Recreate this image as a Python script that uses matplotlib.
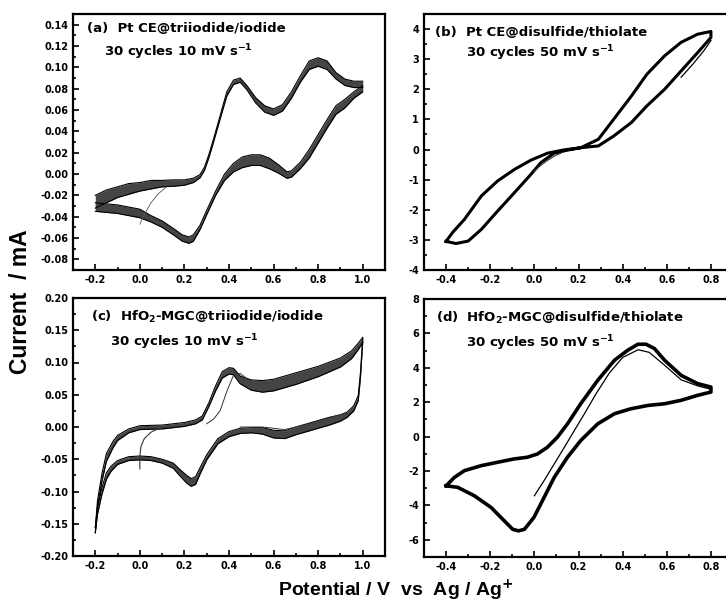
import numpy as np
import matplotlib
matplotlib.use("Agg")
import matplotlib.pyplot as plt
from matplotlib.ticker import MultipleLocator, FormatStrFormatter

plt.rcParams['font.family'] = ['DejaVu Sans']
plt.rcParams['font.weight'] = 'bold'
plt.rcParams['axes.unicode_minus'] = False
plt.rcParams['mathtext.fontset'] = 'dejavusans'

# ---- (a) Pt CE @ triiodide/iodide, 30 cycles (band: centre + half width)
a_fwd_v = [-0.20, -0.15, -0.10, -0.05, 0.00, 0.05, 0.10, 0.15, 0.20, 0.24, 0.27, 0.29, 0.31, 0.33, 0.36, 0.39,
           0.42, 0.45, 0.48, 0.52, 0.56, 0.60, 0.64, 0.68, 0.72, 0.76, 0.80, 0.84, 0.88, 0.92, 0.96, 1.00]
a_fwd_i = [-0.026, -0.021, -0.017, -0.014, -0.012, -0.010, -0.009, -0.0085, -0.008, -0.006, -0.002, 0.005,
           0.017, 0.031, 0.053, 0.075, 0.086, 0.088, 0.081, 0.069, 0.061, 0.058, 0.062, 0.074, 0.089, 0.102, 0.105,
           0.102, 0.092, 0.086, 0.084, 0.084]
a_fwd_hw = [0.006, 0.006, 0.005, 0.005, 0.004, 0.004, 0.003, 0.003, 0.0025, 0.002, 0.0015, 0.0015, 0.0015,
            0.0015, 0.0015, 0.002, 0.002, 0.002, 0.002, 0.0025, 0.003, 0.003, 0.003, 0.003, 0.003, 0.004, 0.004,
            0.004, 0.003, 0.003, 0.003, 0.003]
a_rev_v = [1.00, 0.96, 0.92, 0.88, 0.84, 0.80, 0.76, 0.72, 0.68, 0.66, 0.62, 0.58, 0.54, 0.50, 0.46, 0.42, 0.38,
           0.34, 0.30, 0.27, 0.24, 0.22, 0.19, 0.15, 0.10, 0.05, 0.00, -0.05, -0.10, -0.15, -0.20]
a_rev_i = [0.080, 0.074, 0.066, 0.060, 0.047, 0.033, 0.019, 0.008, 0.000, -0.001, 0.005, 0.010, 0.013, 0.013,
           0.011, 0.006, -0.003, -0.018, -0.036, -0.050, -0.060, -0.062, -0.060, -0.054, -0.047, -0.042, -0.037,
           -0.035, -0.033, -0.032, -0.031]
a_rev_hw = [0.003, 0.003, 0.004, 0.004, 0.004, 0.004, 0.004, 0.003, 0.003, 0.003, 0.004, 0.005, 0.005, 0.005,
            0.005, 0.004, 0.003, 0.002, 0.002, 0.002, 0.003, 0.003, 0.003, 0.003, 0.003, 0.003, 0.004, 0.004,
            0.004, 0.004, 0.004]
a_start_v = [0.00, 0.02, 0.05, 0.08, 0.12]
a_start_i = [-0.047, -0.038, -0.027, -0.019, -0.012]

# ---- (b) Pt CE @ disulfide/thiolate
b_fwd_v = [-0.40, -0.355, -0.30, -0.24, -0.166, -0.09, -0.015, 0.03, 0.09, 0.15, 0.21, 0.29, 0.36, 0.44, 0.51,
           0.59, 0.665, 0.74, 0.80]
b_fwd_i = [-3.05, -3.12, -3.04, -2.65, -2.04, -1.43, -0.82, -0.43, -0.12, -0.02, 0.06, 0.34, 1.01, 1.78, 2.50,
           3.11, 3.56, 3.83, 3.92]
b_rev_v = [0.80, 0.74, 0.665, 0.59, 0.51, 0.44, 0.36, 0.29, 0.21, 0.136, 0.06, -0.015, -0.09, -0.166, -0.24,
           -0.317, -0.37, -0.40]
b_rev_i = [3.72, 3.22, 2.61, 2.00, 1.45, 0.90, 0.45, 0.12, 0.06, -0.01, -0.12, -0.35, -0.66, -1.04, -1.54,
           -2.32, -2.75, -3.05]
b_start_v = [0.00, 0.03, 0.06, 0.09, 0.12]
b_start_i = [-0.71, -0.52, -0.36, -0.22, -0.12]
b_rev2_v = [0.80, 0.77, 0.72, 0.665]
b_rev2_i = [3.62, 3.30, 2.85, 2.40]

# ---- (c) HfO2-MGC @ triiodide/iodide
c_fwd_v = [-0.20, -0.19, -0.17, -0.15, -0.12, -0.10, -0.05, 0.00, 0.10, 0.20, 0.25, 0.28, 0.31, 0.34, 0.37, 0.40,
           0.42, 0.45, 0.50, 0.55, 0.60, 0.65, 0.70, 0.80, 0.90, 0.95, 0.98, 1.00]
c_fwd_i = [-0.160, -0.119, -0.078, -0.047, -0.027, -0.017, -0.006, -0.001, 0.000, 0.004, 0.008, 0.014, 0.035,
           0.060, 0.081, 0.087, 0.086, 0.073, 0.065, 0.063, 0.065, 0.070, 0.075, 0.086, 0.100, 0.112, 0.125, 0.135]
c_fwd_hw = [0.004, 0.005, 0.006, 0.006, 0.005, 0.004, 0.003, 0.003, 0.003, 0.003, 0.003, 0.003, 0.003, 0.004,
            0.005, 0.005, 0.005, 0.006, 0.008, 0.009, 0.009, 0.009, 0.009, 0.008, 0.007, 0.006, 0.005, 0.004]
c_rev_v = [1.00, 0.99, 0.98, 0.96, 0.93, 0.90, 0.85, 0.80, 0.75, 0.70, 0.65, 0.60, 0.55, 0.50, 0.45, 0.40, 0.35,
           0.30, 0.27, 0.25, 0.23, 0.21, 0.18, 0.15, 0.10, 0.05, 0.00, -0.05, -0.10, -0.13, -0.15, -0.17, -0.19, -0.20]
c_rev_i = [0.135, 0.081, 0.045, 0.029, 0.019, 0.014, 0.009, 0.004, -0.001, -0.006, -0.012, -0.011, -0.006,
           -0.005, -0.006, -0.011, -0.022, -0.047, -0.068, -0.083, -0.086, -0.081, -0.071, -0.060, -0.053, -0.049,
           -0.048, -0.049, -0.055, -0.065, -0.076, -0.099, -0.130, -0.160]
c_rev_hw = [0.003, 0.004, 0.004, 0.004, 0.004, 0.005, 0.006, 0.006, 0.006, 0.006, 0.006, 0.006, 0.005, 0.004,
            0.004, 0.004, 0.004, 0.004, 0.005, 0.006, 0.006, 0.006, 0.005, 0.004, 0.003, 0.003, 0.003, 0.003,
            0.003, 0.004, 0.005, 0.005, 0.005, 0.004]
c_start_v = [0.00, 0.00, 0.005, 0.02, 0.05, 0.08, 0.12]
c_start_i = [-0.065, -0.045, -0.030, -0.018, -0.008, -0.003, 0.000]
c_thin1_v = [0.30, 0.33, 0.36, 0.39, 0.42, 0.45, 0.48]
c_thin1_i = [0.005, 0.012, 0.025, 0.055, 0.080, 0.083, 0.075]
c_thin2_v = [0.45, 0.55, 0.65, 0.75, 0.85, 0.93]
c_thin2_i = [0.000, 0.000, -0.004, 0.004, 0.014, 0.022]

# ---- (d) HfO2-MGC @ disulfide/thiolate
d_fwd_v = [-0.40, -0.362, -0.317, -0.241, -0.166, -0.092, -0.032, 0.014, 0.059, 0.104, 0.15, 0.21, 0.287, 0.363,
           0.423, 0.469, 0.506, 0.544, 0.59, 0.665, 0.74, 0.80]
d_fwd_i = [-2.86, -2.37, -1.98, -1.69, -1.49, -1.30, -1.20, -1.01, -0.62, -0.04, 0.74, 1.91, 3.27, 4.44, 5.02,
           5.37, 5.37, 5.12, 4.44, 3.56, 3.08, 2.88]
d_rev_v = [0.80, 0.74, 0.665, 0.59, 0.514, 0.438, 0.363, 0.287, 0.21, 0.15, 0.09, 0.044, -0.002, -0.045, -0.072,
           -0.098, -0.136, -0.196, -0.272, -0.347, -0.40]
d_rev_i = [2.59, 2.40, 2.11, 1.91, 1.81, 1.62, 1.33, 0.74, -0.23, -1.20, -2.37, -3.54, -4.70, -5.39, -5.48,
           -5.39, -4.90, -4.12, -3.44, -2.95, -2.86]
d_first_v = [0.00, 0.044, 0.09, 0.136, 0.181, 0.227, 0.28, 0.34, 0.40, 0.47, 0.52, 0.59, 0.665, 0.74, 0.80]
d_first_i = [-3.44, -2.56, -1.59, -0.62, 0.35, 1.33, 2.5, 3.7, 4.6, 5.05, 4.9, 4.15, 3.3, 2.95, 2.75]

W, H = 726, 610
fig = plt.figure(figsize=(W / 100, H / 100), dpi=100)


def box(l, t, r, b):
    return [l / W, 1 - b / H, (r - l) / W, (b - t) / H]


ax_a = fig.add_axes(box(73, 14, 385, 270))
ax_b = fig.add_axes(box(424, 14, 733, 270))
ax_c = fig.add_axes(box(73, 298, 385, 556))
ax_d = fig.add_axes(box(424, 299, 733, 557))


def band(ax, v, i, hw):
    v, i, hw = np.array(v), np.array(i), np.array(hw)
    ax.fill_between(v, i - hw, i + hw, color='#444444', lw=0)
    ax.plot(v, i + hw, color='k', lw=0.8)
    ax.plot(v, i - hw, color='k', lw=0.8)


band(ax_a, a_fwd_v, a_fwd_i, a_fwd_hw)
band(ax_a, a_rev_v, a_rev_i, a_rev_hw)
ax_a.plot(a_start_v, a_start_i, color='#555555', lw=0.6)

ax_b.plot(b_fwd_v + b_rev_v, b_fwd_i + b_rev_i, color='k', lw=2.2)
ax_b.plot(b_start_v, b_start_i, color='#333333', lw=0.8)
ax_b.plot(b_rev2_v, b_rev2_i, color='k', lw=0.9)

band(ax_c, c_fwd_v, c_fwd_i, c_fwd_hw)
band(ax_c, c_rev_v, c_rev_i, c_rev_hw)
ax_c.plot(c_start_v, c_start_i, color='#333333', lw=0.8)
ax_c.plot(c_thin1_v, c_thin1_i, color='#333333', lw=0.7)
ax_c.plot(c_thin2_v, c_thin2_i, color='#333333', lw=0.7)

ax_d.plot(d_fwd_v + d_rev_v, d_fwd_i + d_rev_i, color='k', lw=2.6)
ax_d.plot(d_first_v, d_first_i, color='k', lw=0.9)

settings = [
    (ax_a, (-0.3, 1.1), (-0.09, 0.15), 0.02, 0.01, '%.2f', [-0.2, 0.0, 0.2, 0.4, 0.6, 0.8, 1.0]),
    (ax_b, (-0.5, 0.9), (-4, 4.5), 1, 0.5, '%d', [-0.4, -0.2, 0.0, 0.2, 0.4, 0.6, 0.8]),
    (ax_c, (-0.3, 1.1), (-0.2, 0.2), 0.05, 0.025, '%.2f', [-0.2, 0.0, 0.2, 0.4, 0.6, 0.8, 1.0]),
    (ax_d, (-0.5, 0.9), (-7, 8), 2, 1, '%d', [-0.4, -0.2, 0.0, 0.2, 0.4, 0.6, 0.8]),
]
for ax, xl, yl, ymaj, ymin, fmt, xt in settings:
    ax.set_xlim(*xl)
    ax.set_ylim(*yl)
    ax.set_xticks(xt)
    ax.xaxis.set_minor_locator(MultipleLocator(0.1))
    ax.xaxis.set_major_formatter(FormatStrFormatter('%.1f'))
    ax.yaxis.set_major_locator(MultipleLocator(ymaj))
    ax.yaxis.set_minor_locator(MultipleLocator(ymin))
    ax.yaxis.set_major_formatter(FormatStrFormatter(fmt))
    ax.tick_params(which='both', direction='in', top=False, right=False, width=1.2,
                   labelsize=7, pad=3.5)
    ax.tick_params(which='major', length=4)
    ax.tick_params(which='minor', length=2)
    for lab in ax.get_xticklabels() + ax.get_yticklabels():
        lab.set_fontweight('bold')
    for sp in ax.spines.values():
        sp.set_linewidth(1.6)


def ftext(x, y, s, **kw):
    fig.text(x / W, 1 - y / H, s, va='center', fontweight='bold', **kw)


ftext(87, 29, '(a)  Pt CE@triiodide/iodide', fontsize=9.5)
ftext(104, 52, '30 cycles 10 mV s$^{\\mathbf{-1}}$', fontsize=9.5)
ftext(435, 32, '(b)  Pt CE@disulfide/thiolate', fontsize=9.5)
ftext(466, 53, '30 cycles 50 mV s$^{\\mathbf{-1}}$', fontsize=9.5)
ftext(91, 317, '(c)  HfO$_{\\mathbf{2}}$-MGC@triiodide/iodide', fontsize=9.5)
ftext(110, 342, '30 cycles 10 mV s$^{\\mathbf{-1}}$', fontsize=9.5)
ftext(436, 318, '(d)  HfO$_{\\mathbf{2}}$-MGC@disulfide/thiolate', fontsize=9.5)
ftext(466, 343, '30 cycles 50 mV s$^{\\mathbf{-1}}$', fontsize=9.5)

ftext(21, 302, 'Current  / mA', fontsize=16.5, rotation=90, ha='center', family='Liberation Sans')
ftext(396, 590, 'Potential / V  vs  Ag / Ag$^{\\mathbf{+}}$', fontsize=14, ha='center', family='Liberation Sans')

fig.savefig('out.png', dpi=100)
